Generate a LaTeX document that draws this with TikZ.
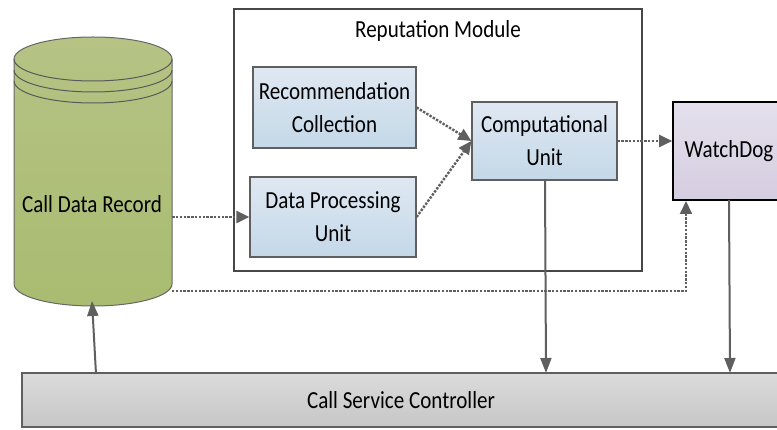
\documentclass[tikz,border=0pt]{standalone}
\usepackage{fontspec}
\setmainfont[FakeStretch=0.86]{Carlito}
\usetikzlibrary{calc,arrows.meta,positioning}
\definecolor{edgegray}{HTML}{5F5F5F}
\definecolor{blueTop}{HTML}{DFE8F2}
\definecolor{blueBot}{HTML}{C4D8E8}
\definecolor{cylTop}{RGB}{181,195,132}
\definecolor{cylBot}{RGB}{169,188,113}
\definecolor{purTop}{RGB}{229,224,237}
\definecolor{purBot}{RGB}{213,205,224}
\definecolor{grayTop}{RGB}{219,219,219}
\definecolor{grayBot}{RGB}{198,198,198}
\tikzset{
  x=1pt,y=-1pt,
  box/.style={draw=edgegray,line width=1.2pt,rectangle,minimum width=#1,inner sep=0pt,align=center,font=\fontsize{24.5}{33}\selectfont},
  bluebox/.style={box=#1,top color=blueTop,bottom color=blueBot},
  solidarrow/.style={draw=edgegray,line width=2pt,-{Triangle[length=15pt,width=11pt]}},
  dotarrow/.style={draw=edgegray,line width=2.4pt,dash pattern=on 2.4pt off 1.4pt,-{Triangle[length=13pt,width=12pt]}},
  thinlabel/.style={font=\fontsize{24.5}{28}\selectfont,inner sep=0pt},
  rimline/.style={draw=black!65,line width=1pt},
}
\begin{document}
\begin{tikzpicture}
\useasboundingbox (0,0) rectangle (777,430);
\clip (0,0) rectangle (777,430);
% module
\node[draw=black!72,line width=1.8pt,minimum width=408pt,minimum height=262pt,inner sep=0pt] (module) at (438,140) {};
\node[thinlabel] (modtitle) at (438,31) {Reputation Module};
% cylinder
\path[draw=black!60,line width=1pt,top color=cylTop,bottom color=cylBot]
  (14,59) -- (14,284) arc[start angle=180,end angle=0,x radius=79,y radius=22] -- (172,59)
  arc[start angle=0,end angle=-180,x radius=79,y radius=22] -- cycle;
\draw[rimline] (14,59) arc[start angle=180,end angle=0,x radius=79,y radius=22];
\draw[rimline] (14,70) arc[start angle=180,end angle=0,x radius=79,y radius=22];
\draw[rimline] (14,81) arc[start angle=180,end angle=0,x radius=79,y radius=22];
\node[minimum width=158pt,minimum height=269pt,inner sep=0pt] (cdr) at (93,171.5) {};
\node[thinlabel] (cdrlabel) at (92,204) {Call Data Record};
% boxes
\node[bluebox=163pt,minimum height=81pt] (rec) at (334.5,107.5) {Recommendation\\Collection};
\node[bluebox=166pt,minimum height=80pt] (data) at (333,217) {Data Processing\\Unit};
\node[bluebox=145pt,minimum height=78pt] (comp) at (544.5,141) {Computational\\Unit};
\node[box=120pt,minimum height=98pt,draw=black,line width=1.6pt,top color=purTop,bottom color=purBot] (watch) at (733,151) {};
\node[thinlabel] (watchlabel) at (729,151) {WatchDog};
\node[box=770pt,minimum height=54pt,top color=grayTop,bottom color=grayBot] (ctrl) at (407,400) {};
\node[thinlabel] (ctrllabel) at (401,400) {Call Service Controller};
% free-end coordinates
\coordinate (cdrdata) at (cdr.east |- data.west);
\coordinate (cdrout) at (172,291);
\coordinate (corner) at (686,291);
\coordinate (watchin) at (686,201);
\coordinate (compout) at (545,180);
\coordinate (ctrlcomp) at (546,373);
\coordinate (watchout) at (729,200);
\coordinate (ctrlwatch) at (730,373);
\coordinate (ctrlout) at (96,374);
\coordinate (cdrin) at (92,301);
% connectors
\draw[dotarrow] (rec.east) -- (comp.west);
\draw[dotarrow] (data.east) -- (comp.west);
\draw[dotarrow] (comp.east) -- (comp.east -| watch.west);
\draw[dotarrow] (cdrdata) -- (data.west);
\draw[dotarrow,line width=2pt] (cdrout) -- (corner) -- (watchin);
\draw[solidarrow] (compout) -- (ctrlcomp);
\draw[solidarrow] (watchout) -- (ctrlwatch);
\draw[solidarrow] (ctrlout) -- (cdrin);
\end{tikzpicture}
\end{document}
